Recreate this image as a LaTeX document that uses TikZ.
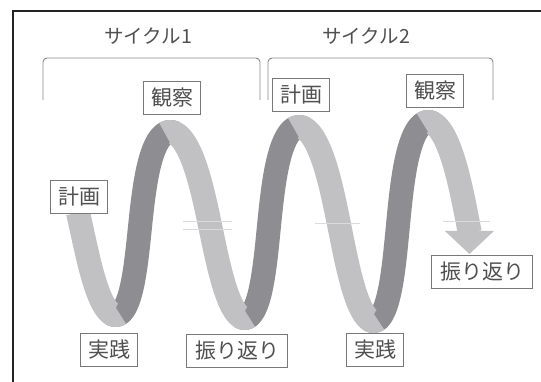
\documentclass[tikz,border=0pt]{standalone}
\usepackage{fontspec}
\newfontfamily\jp{Noto Sans CJK JP}
\definecolor{lite}{RGB}{193,193,196}
\definecolor{dark}{RGB}{142,142,146}
\definecolor{txt}{RGB}{80,80,80}
\definecolor{brk}{RGB}{135,135,135}
\definecolor{boxc}{RGB}{120,120,120}
\definecolor{frm}{RGB}{35,35,35}
\definecolor{faint}{RGB}{218,218,218}
\pgfmathdeclarefunction{rx}{1}{\pgfmathparse{175+0.3583*#1-5*cos(#1)+2.5*sin(#1)+3*sin(2*#1)}}
\pgfmathdeclarefunction{ry}{1}{\pgfmathparse{224.25-#1/360-(92.25+4*#1/360)*cos(#1)}}
\newcommand\bandseg[3]{\draw[#1,line width=24pt,line join=round,line cap=butt] plot[domain=#2:#3,samples=120,variable=\t] ({rx(\t)},{ry(\t)});}
\begin{document}
\begin{tikzpicture}[x=1pt,y=-1pt,
  lbl/.style={draw=boxc,line width=0.8pt,fill=white,text=txt,font=\jp\fontsize{21}{21}\selectfont,inner sep=0pt,minimum height=33pt,minimum width=57pt},
  widelbl/.style={lbl,minimum width=101pt},
  cyc/.style={text=txt,font=\jp\fontsize{19.5}{20}\selectfont,inner sep=0pt},
  brack/.style={draw=brk,line width=0.9pt,rounded corners=4pt}]
\useasboundingbox (0,0) rectangle (541,382);
% frame
\draw[frm,line width=2pt] (13,383) -- (13,11) -- (542,11);
% cycle titles
\node[cyc] (c1) at (148,36) {サイクル1};
\node[cyc] (c2) at (366,36) {サイクル2};
% brackets
\draw[brack] (43,100) -- (43,58) -- (260,58) -- (260,100);
\draw[brack] (268,100) -- (268,58) -- (493,58) -- (493,100);
% ribbon: back (dark) parts
\bandseg{dark}{-190}{10}
\bandseg{dark}{170}{370}
\bandseg{dark}{530}{730}
% front (light) parts, covering the turns
\bandseg{lite}{-278}{-170}
\bandseg{lite}{-10}{190}
\bandseg{lite}{350}{550}
\bandseg{lite}{710}{816}
\pgfmathsetmacro\xe{rx(815)}
\fill[lite] (\xe-24.5,231) -- (\xe+24.5,231) -- (\xe,254) -- cycle;
% faint marks
\draw[faint,line width=0.7pt] (183,221) -- (232,221) (183,229) -- (232,229)
  (315,223) -- (360,223) (443,221) -- (490,221);
% labels
\node[lbl] (k1) at (79,197) {計画};
\node[lbl] (o1) at (172,98) {観察};
\node[lbl] (j1) at (109,350) {実践};
\node[widelbl] (f1) at (237,351) {振り返り};
\node[lbl] (k2) at (301,95) {計画};
\node[lbl] (o2) at (435,91) {観察};
\node[lbl] (j2) at (375,350) {実践};
\node[widelbl] (f2) at (482,272) {振り返り};
\end{tikzpicture}
\end{document}
